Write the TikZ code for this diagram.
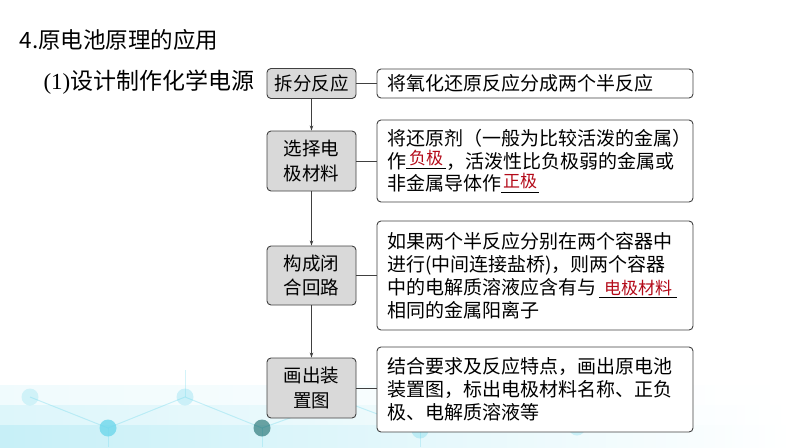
\documentclass[tikz,border=0pt]{standalone}
\usepackage{fontspec}
\setmainfont{Noto Sans CJK SC}
\newfontfamily\serifnum{Liberation Serif}
\usetikzlibrary{arrows.meta}
\definecolor{boxgray}{RGB}{217,217,217}
\definecolor{linegray}{RGB}{64,64,64}
\definecolor{answerred}{RGB}{180,10,25}
\definecolor{decocyan}{RGB}{110,215,235}
\newcommand\answer[4]{\makebox[#1]{\rlap{\rule[#2]{#1}{0.7pt}}\hfill\smash{\raisebox{#3}{\fontsize{17}{17}\selectfont\textcolor{answerred}{#4}}}\hfill}}

\begin{document}
\begin{tikzpicture}[x=1pt,y=-1pt,
  stepname/.style={draw=linegray,fill=boxgray,line width=0.9pt,rounded corners=4pt,minimum width=89pt,inner sep=0pt,align=center,font=\fontsize{18.5}{24.5}\selectfont},
  stepnote/.style={draw=linegray,fill=white,line width=0.9pt,rounded corners=4pt,minimum width=316pt,text width=296pt,inner xsep=10pt,inner ysep=0pt,align=left,font=\fontsize{19}{23}\selectfont},
  link/.style={draw=linegray,line width=0.8pt},
  >={Stealth[length=5pt,width=3.5pt]}]
\useasboundingbox (0,0) rectangle (794,447);
\shade[left color=decocyan,right color=white,opacity=0.10] (0,385) rectangle (794,447);
\shade[left color=decocyan,right color=white,opacity=0.15] (0,405) rectangle (794,447);
\shade[left color=decocyan,right color=white,opacity=0.20] (0,425) rectangle (794,447);
\draw[decocyan,opacity=0.35,line width=1pt] (30,397) -- (108,428) -- (185,397) -- (262,428) -- (340,400) -- (420,430) -- (500,400) -- (577,427);
\draw[decocyan,opacity=0.3,line width=1pt] (108,428) -- (108,447) (262,428) -- (262,447) (420,430) -- (420,447) (185,397) -- (185,370) (340,400) -- (340,375);
\foreach \px/\py/\op in {30/397/0.25,108/428/0.8,185/397/0.3,420/430/0.35,500/400/0.2,577/427/0.3}
  \fill[decocyan,opacity=\op] (\px,\py) circle (8.5pt);
\fill[teal!70!black,opacity=0.55] (262,428) circle (8.5pt);

\node[anchor=west,font=\fontsize{22.5}{27}\selectfont] (title) at (16,40) {4.原电池原理的应用};
\node[anchor=west,font=\fontsize{23}{27}\selectfont] (subtitle) at (40,82) {{\serifnum (1)}设计制作化学电源};

\node[stepname,minimum height=30pt] (split) at (311.5,83.5) {拆分反应};
\node[stepname,minimum height=60pt] (choose) at (311.5,161) {选择电\\极材料};
\node[stepname,minimum height=59pt] (circuit) at (311.5,275.5) {构成闭\\合回路};
\node[stepname,minimum height=60pt] (device) at (311.5,388) {画出装\\置图};

\node[stepnote,minimum height=82pt,font=\fontsize{19}{22.5}\selectfont] (choosenote) at (535,161) {将还原剂（一般为比较活泼的金属）\\作\answer{40pt}{-1pt}{4pt}{负极}，活泼性比负极弱的金属或\\非金属导体作\answer{38pt}{-2pt}{3pt}{正极}};
\node[stepnote,minimum height=29pt] (splitnote) at (535,83.5) {将氧化还原反应分成两个半反应};
\node[stepnote,minimum height=109pt] (circuitnote) at (535,275.5) {如果两个半反应分别在两个容器中\\进行(中间连接盐桥)，则两个容器\\中的电解质溶液应含有与\hspace{3pt}\answer{78pt}{-3pt}{0pt}{电极材料}\\相同的金属阳离子};
\node[stepnote,minimum height=85pt] (devicenote) at (535,389.5) {结合要求及反应特点，画出原电池\\装置图，标出电极材料名称、正负\\极、电解质溶液等};

\draw[link,->] (split) -- (choose);
\draw[link,->] (choose) -- (circuit);
\draw[link,->] (circuit) -- (device);
\draw[link] (split) -- (splitnote);
\draw[link] (choose) -- (choosenote);
\draw[link] (circuit) -- (circuitnote);
\draw[link] (device.east) -- (device.east -| devicenote.west);
\end{tikzpicture}
\end{document}
